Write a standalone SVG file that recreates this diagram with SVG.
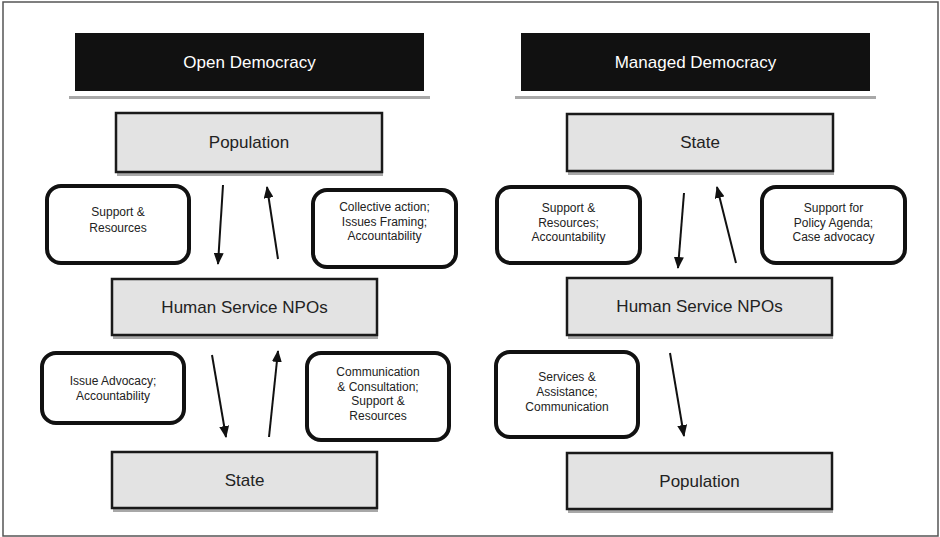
<svg xmlns="http://www.w3.org/2000/svg" width="940" height="537" viewBox="0 0 940 537">
<defs>
<marker id="ah" viewBox="0 0 12 10" refX="11" refY="5" markerWidth="12" markerHeight="10" markerUnits="userSpaceOnUse" orient="auto">
<path d="M0,0 L12,5 L0,10 Z" fill="#111"/>
</marker>
</defs>
<style>
text{font-family:"Liberation Sans",Arial,sans-serif;text-anchor:middle;fill:#222}
.title rect.b{fill:#111}
.title text{fill:#fff;font-size:17px}
.sh{stroke:#a8a8a8;stroke-width:3}
.main rect{fill:#e3e3e3;stroke:#1a1a1a;stroke-width:2.5}
.main text{font-size:17px}
.lab rect{fill:#fff;stroke:#111;stroke-width:4}
.lab text{font-size:12px}
.con line{stroke:#111;stroke-width:2;marker-end:url(#ah)}
</style>
<rect x="0" y="0" width="940" height="537" fill="#fff"/>
<rect x="3" y="2" width="935" height="534" fill="none" stroke="#555" stroke-width="1.5"/>

<g id="title-open" class="title">
<line class="sh" x1="69" y1="97.5" x2="430" y2="97.5"/>
<rect class="b" x="75" y="33" width="349" height="58"/>
<text x="249.5" y="68">Open Democracy</text>
</g>
<g id="title-managed" class="title">
<line class="sh" x1="515" y1="97.5" x2="876" y2="97.5"/>
<rect class="b" x="521" y="33" width="349" height="58"/>
<text x="695.5" y="68">Managed Democracy</text>
</g>

<g id="od-population" class="main">
<line class="sh" x1="117" y1="174.5" x2="383" y2="174.5"/>
<rect x="116" y="113" width="266" height="59"/>
<text x="249" y="148">Population</text>
</g>
<g id="od-npos" class="main">
<line class="sh" x1="113" y1="337.5" x2="378" y2="337.5"/>
<rect x="112" y="279" width="265" height="56"/>
<text x="244.5" y="313">Human Service NPOs</text>
</g>
<g id="od-state" class="main">
<line class="sh" x1="113" y1="510.5" x2="378" y2="510.5"/>
<rect x="112" y="452" width="265" height="56"/>
<text x="244.5" y="486">State</text>
</g>

<g id="md-state" class="main">
<line class="sh" x1="568" y1="173.5" x2="834" y2="173.5"/>
<rect x="567" y="114" width="266" height="57"/>
<text x="700" y="148">State</text>
</g>
<g id="md-npos" class="main">
<line class="sh" x1="568" y1="337.5" x2="833" y2="337.5"/>
<rect x="567" y="278" width="265" height="57"/>
<text x="699.5" y="312">Human Service NPOs</text>
</g>
<g id="md-population" class="main">
<line class="sh" x1="568" y1="511.5" x2="833" y2="511.5"/>
<rect x="567" y="453" width="265" height="56"/>
<text x="699.5" y="487">Population</text>
</g>

<g id="lab-od-1" class="lab">
<rect x="47" y="186" width="142" height="77" rx="14"/>
<text x="118" y="216">Support &amp;</text>
<text x="118" y="232">Resources</text>
</g>
<g id="lab-od-2" class="lab">
<rect x="313" y="190" width="143" height="77" rx="14"/>
<text x="384.5" y="211">Collective action;</text>
<text x="384.5" y="225.5">Issues Framing;</text>
<text x="384.5" y="240">Accountability</text>
</g>
<g id="lab-od-3" class="lab">
<rect x="42" y="353" width="142" height="70" rx="14"/>
<text x="113" y="385">Issue Advocacy;</text>
<text x="113" y="399.5">Accountability</text>
</g>
<g id="lab-od-4" class="lab">
<rect x="307" y="353" width="142" height="87" rx="14"/>
<text x="378" y="376">Communication</text>
<text x="378" y="390.5">&amp; Consultation;</text>
<text x="378" y="405">Support &amp;</text>
<text x="378" y="420">Resources</text>
</g>
<g id="lab-md-1" class="lab">
<rect x="497" y="187" width="143" height="76" rx="14"/>
<text x="568.5" y="212">Support &amp;</text>
<text x="568.5" y="226.5">Resources;</text>
<text x="568.5" y="241">Accountability</text>
</g>
<g id="lab-md-2" class="lab">
<rect x="762" y="187" width="143" height="76" rx="14"/>
<text x="833.5" y="212">Support for</text>
<text x="833.5" y="226.5">Policy Agenda;</text>
<text x="833.5" y="241">Case advocacy</text>
</g>
<g id="lab-md-3" class="lab">
<rect x="496" y="352" width="142" height="85" rx="14"/>
<text x="567" y="381">Services &amp;</text>
<text x="567" y="396">Assistance;</text>
<text x="567" y="411">Communication</text>
</g>

<g id="connectors" class="con">
<line x1="223" y1="185" x2="218" y2="264"/>
<line x1="278" y1="259" x2="267" y2="187"/>
<line x1="212" y1="355" x2="226" y2="437"/>
<line x1="269" y1="437" x2="278" y2="351"/>
<line x1="684" y1="193" x2="678" y2="268"/>
<line x1="736" y1="263" x2="717" y2="187"/>
<line x1="670" y1="353" x2="684" y2="436"/>
</g>
</svg>
